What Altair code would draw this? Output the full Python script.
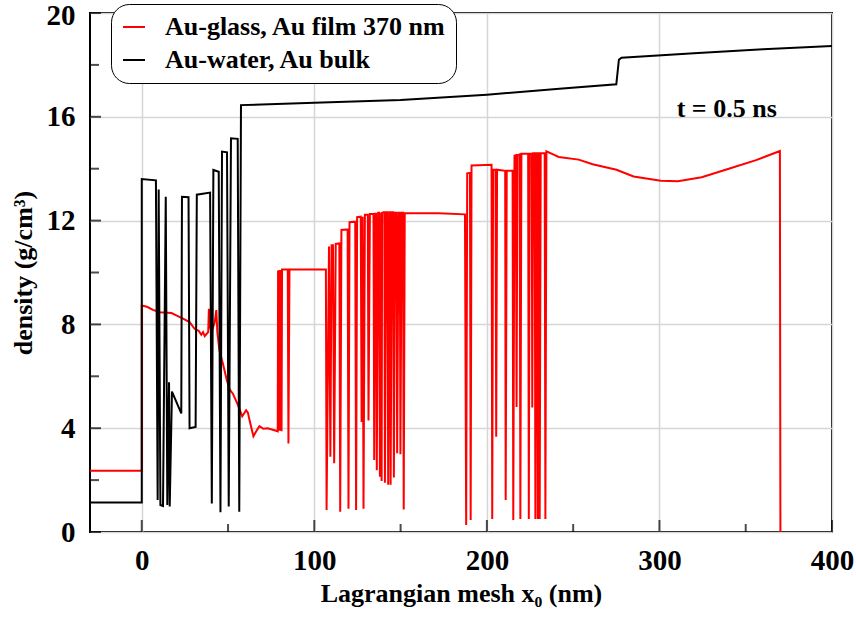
import altair as alt
import pandas as pd

SERIES = ["Au-glass, Au film 370 nm", "Au-water, Au bulk"]
COLORS = ["#ff0000", "#000000"]

# Au-glass, Au film 370 nm (red)
glass_x = [-30, 0, 0, 3, 6.5, 10.4, 17.2, 20, 23.9, 27.7, 30.6, 33, 34.5, 35.5, 36.5, 37.4, 38.5, 38.9,
           39.6, 40.5, 42.3, 43.2, 43.8, 45, 47, 49.3, 50.9, 52.8, 55.7, 58.2, 60.5, 61.5, 62.5, 64.7,
           66.5, 68.2, 70.5, 73, 76.9, 78.8,
           79.0, 79.4, 79.8, 80.2, 80.6, 81.0, 81.3, 84.6, 85.0, 85.6, 106.7,
           107.1, 108.5, 109.3, 110.0, 110.8, 111.5, 112.4, 114.5, 115.0, 115.7, 119.3, 119.8, 120.4,
           123.7, 124.2, 124.8, 126.9, 127.4, 128.0, 128.5, 129.3, 131.0, 131.4, 132.2, 134.3, 134.7,
           135.3, 135.8, 136.2, 137.0, 137.6, 138.0, 138.8, 139.0, 139.3, 140.2, 140.6, 140.9, 141.7,
           142.4, 142.8, 143.6, 143.9, 144.2, 145.0, 145.7, 146.1, 146.8, 147.6, 148.0, 148.8, 149.5,
           149.9, 150.6, 151.4, 151.8, 152.4, 172, 187.3,
           188.0, 188.6, 190.2, 190.6, 191.1, 202.7, 203.1, 203.6, 205.0, 205.4, 205.9, 210.6, 210.9,
           211.5, 214.9, 215.3, 216.0, 216.8, 217.2, 217.7, 219.0, 219.4, 220.0, 223.9, 224.3, 224.8,
           226.0, 226.3, 226.8, 227.7, 228.1, 228.7, 229.1, 229.5, 230.0, 230.3, 230.6, 231.2, 233.5,
           233.9, 234.5, 238.7, 241.6, 253.2, 261.3, 275.1, 285, 300.8, 310.7, 324.5, 340.2, 356,
           369.8, 370.1]
glass_y = [2.36, 2.36, 8.73, 8.68, 8.56, 8.47, 8.44, 8.35, 8.22, 8.09, 7.83, 7.75, 7.6, 7.7, 7.55, 7.62, 7.7, 8.6,
           7.9, 7.7, 8.1, 8.55, 7.7, 7.0, 6.49, 5.85, 5.5, 5.33, 4.9, 4.46, 4.69, 4.6, 4.3, 3.69,
           3.9, 4.08, 3.98, 4.0, 3.92, 3.88,
           10.08, 3.9, 10.1, 3.9, 10.1, 3.88, 10.12, 10.12, 3.41, 10.12, 10.12,
           0.85, 11.0, 2.9, 11.05, 11.05, 2.65, 11.1, 11.12, 0.78, 11.64, 11.66, 0.9, 11.94,
           11.96, 0.85, 12.13, 12.15, 4.24, 12.15, 0.9, 12.23, 12.23, 4.3, 12.25, 12.25, 2.77,
           12.26, 12.26, 2.38, 12.3, 12.3, 2.13, 12.3, 1.97, 12.3, 12.32, 12.32, 1.9, 12.32,
           12.32, 1.82, 12.32, 12.32, 1.82, 12.32, 12.32, 2.1, 12.3, 12.3, 3.03, 12.3, 12.3,
           3.0, 12.3, 12.3, 0.87, 12.28, 12.28, 12.24,
           0.27, 13.82, 13.84, 0.46, 14.12, 14.15, 0.5, 13.96, 13.96, 3.67, 13.96, 13.92, 1.23,
           13.92, 13.92, 0.46, 14.5, 14.52, 4.82, 14.52, 14.55, 0.5, 14.58, 14.58, 0.5, 14.58,
           14.58, 4.8, 14.6, 14.6, 0.5, 14.6, 14.6, 0.5, 14.6, 14.6, 0.5, 14.6, 14.6,
           0.5, 14.67, 14.54, 14.45, 14.35, 14.17, 13.96, 13.7, 13.54, 13.52, 13.67, 14.0, 14.33,
           14.68, 0.0]

# Au-water, Au bulk (black)
water_x = [-30, 0, 0, 8.2, 9.2, 9.8, 10.8, 12.3, 13.9, 14.8, 15.8, 16.2, 17.5, 22.9, 23.3, 27.1, 27.7,
           31.2, 31.9, 39.6, 40.6, 41.5, 44.6, 45.6, 46.5, 49.4, 50.4, 51.7, 55.6, 56.5, 57.5, 100,
           150, 200, 242, 275, 276.5, 278, 320, 360, 400]
water_y = [1.14, 1.14, 13.6, 13.55, 1.23, 13.2, 1.04, 1.0, 12.92, 1.04, 5.77, 0.98, 5.41, 4.57, 12.92, 12.9, 4.0,
           4.05, 13.0, 13.08, 1.1, 13.95, 13.88, 0.76, 14.66, 14.63, 0.98, 15.17, 15.15, 0.78, 16.45, 16.54,
           16.65, 16.85, 17.08, 17.25, 18.2, 18.28, 18.45, 18.6, 18.73]

y_major = [0, 4, 8, 12, 16, 20]
y_minor = [2, 6, 10, 14, 18]
x_major = [0, 100, 200, 300, 400]
x_minor = [50, 150, 250, 350]

X_TITLE = "Lagrangian mesh x\u2080 (nm)"
Y_TITLE = "density (g/cm\u00b3)"

W, H = 742, 519
FONT = "Liberation Serif"

glass = pd.DataFrame({"x": glass_x, "y": glass_y, "series": SERIES[0], "i": range(len(glass_x))})
water = pd.DataFrame({"x": water_x, "y": water_y, "series": SERIES[1], "i": range(len(water_x))})

xs = alt.Scale(domain=[-30, 400], nice=False, zero=False)
ys = alt.Scale(domain=[0, 20], nice=False, zero=False)
cs = alt.Scale(domain=SERIES, range=COLORS)

legend = alt.Legend(
    title=None, orient="none", legendX=21, legendY=-9,
    symbolType="stroke", symbolSize=484, symbolStrokeWidth=2,
    labelFont=FONT, labelFontSize=26, labelFontWeight="bold", labelColor="black",
    labelOffset=18, labelLimit=0, rowPadding=7, padding=10,
    strokeColor="black", fillColor="white", cornerRadius=18,
)

xaxis = alt.Axis(values=x_major, tickSize=0, domain=False, grid=True, labelFlush=False,
                 labelPadding=14, titlePadding=5, format="d")
yaxis = alt.Axis(values=y_major, tickSize=0, domain=False, grid=True,
                 labelPadding=15, titlePadding=10, format="d",
                 labelOffset={"condition": {"test": "datum.value === 20", "value": 2}, "value": 0})


def X(field):
    return alt.X(field, scale=xs, axis=xaxis, title=X_TITLE)


def Y(field):
    return alt.Y(field, scale=ys, axis=yaxis, title=Y_TITLE)


def line_layer(df):
    return alt.Chart(df).mark_line(strokeWidth=2, clip=True).encode(
        x=X("x:Q"), y=Y("y:Q"),
        color=alt.Color("series:N", scale=cs, legend=legend),
        order=alt.Order("i:Q"),
    )


red = line_layer(glass)
black = line_layer(water)


def yticks(vals, size):
    return alt.Chart(pd.DataFrame({"v": vals})).mark_tick(
        orient="horizontal", size=size, thickness=2, color="black").encode(
        y=Y("v:Q"), x=alt.value(size / 2))


def xticks(vals, size):
    return alt.Chart(pd.DataFrame({"v": vals})).mark_tick(
        orient="vertical", size=size, thickness=2, color="black").encode(
        x=X("v:Q"), y=alt.value(H - size / 2))


note = alt.Chart(pd.DataFrame({"x": [339], "y": [16.0], "t": ["t = 0.5 ns"]})).mark_text(
    font=FONT, fontSize=26, fontWeight="bold", align="center", baseline="alphabetic", color="black"
).encode(x=X("x:Q"), y=Y("y:Q"), text="t:N")

chart = alt.layer(
    red, black, yticks(y_major, 11), yticks(y_minor, 9), xticks(x_major, 12), xticks(x_minor, 8), note
).properties(
    width=W, height=H,
    autosize=alt.AutoSizeParams(type="none"),
    padding={"left": 90, "top": 13, "right": 24, "bottom": 85},
    background="white",
).configure_view(
    stroke="black", strokeWidth=2
).configure_axis(
    gridColor="#d6d6d6", gridWidth=1.5,
    labelFont=FONT, labelFontSize=29, labelFontWeight="bold", labelColor="black",
    titleFont=FONT, titleFontSize=26, titleFontWeight="bold", titleColor="black",
)

chart.save("out.html", embed_options={"renderer": "svg", "actions": False})
